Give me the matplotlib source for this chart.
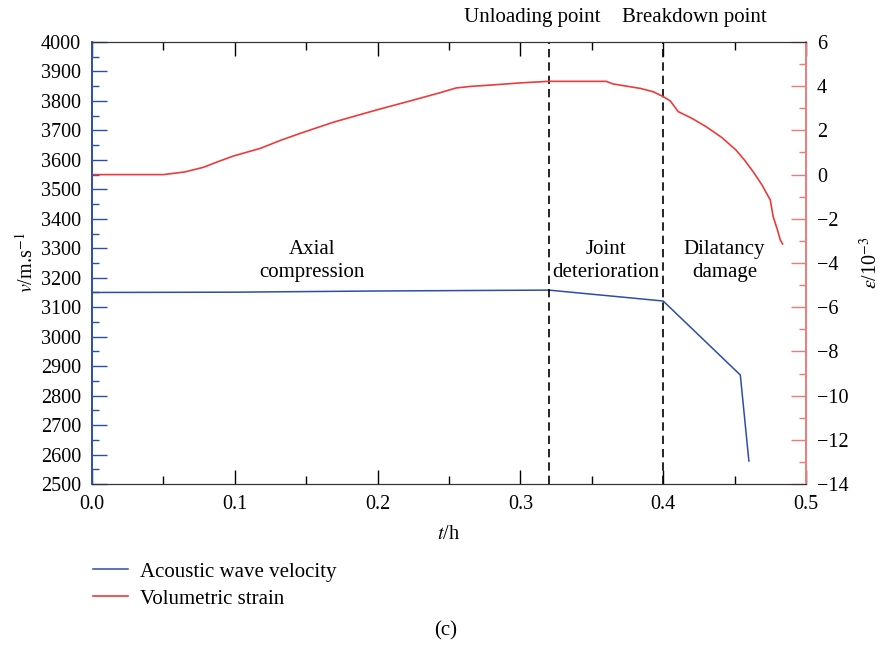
import matplotlib
matplotlib.use("Agg")
import matplotlib.pyplot as plt
from matplotlib.ticker import MultipleLocator

plt.rcParams['font.family'] = ['Liberation Serif', 'DejaVu Serif']
plt.rcParams['mathtext.fontset'] = 'stix'
plt.rcParams['font.size'] = 14.5

# acoustic wave velocity (m/s)
t_v = [0.0, 0.1, 0.2, 0.32, 0.4, 0.454, 0.460]
v = [3150, 3151, 3155, 3158, 3121, 2870, 2578]

# volumetric strain (10^-3)
t_e = [0.0, 0.05, 0.065, 0.078, 0.088, 0.099, 0.118, 0.132, 0.146, 0.169, 0.199,
       0.222, 0.244, 0.255, 0.265, 0.279, 0.30, 0.32, 0.36, 0.365, 0.384, 0.393,
       0.40, 0.405, 0.4105, 0.42, 0.43, 0.441, 0.451, 0.457, 0.463, 0.469, 0.475,
       0.477, 0.480, 0.482, 0.4836]
eps = [0.0, 0.0, 0.12, 0.33, 0.58, 0.84, 1.19, 1.55, 1.87, 2.37, 2.92,
       3.32, 3.71, 3.92, 3.99, 4.05, 4.15, 4.22, 4.22, 4.1, 3.9, 3.75,
       3.53, 3.33, 2.85, 2.55, 2.17, 1.68, 1.11, 0.65, 0.13, -0.45, -1.15,
       -1.9, -2.5, -2.96, -3.14]

marks = [0.32, 0.4]
mark_names = ["Unloading point", "Breakdown point"]
stages = ["Axial\ncompression", "Joint\ndeterioration", "Dilatancy\ndamage"]
stage_x = [0.154, 0.36, 0.443]

blue = '#2c4ea8'
red = '#ee3a3a'
pink = '#f07a7a'

fig = plt.figure(figsize=(8.81, 6.5), dpi=100)
ax = fig.add_axes([92/881, 1-484/650, (806-92)/881, (484-42)/650])
ax2 = ax.twinx()

l1, = ax.plot(t_v, v, color=blue, lw=1.1, label='Acoustic wave velocity')
l2, = ax2.plot(t_e, eps, color=red, lw=1.2, label='Volumetric strain')

for x in marks:
    ax.axvline(x, color='black', ls=(0, (5, 3)), lw=1.2)

ax.set_xlim(0, 0.5)
ax.set_ylim(2500, 4000)

ax.xaxis.set_major_locator(MultipleLocator(0.1))
ax.xaxis.set_minor_locator(MultipleLocator(0.05))
ax.yaxis.set_major_locator(MultipleLocator(100))
ax.yaxis.set_minor_locator(MultipleLocator(50))
ax2.yaxis.set_major_locator(MultipleLocator(2))
ax2.yaxis.set_minor_locator(MultipleLocator(1))

ax.tick_params(axis='x', which='both', direction='in', top=True, colors='black', pad=8)
ax.tick_params(axis='x', which='major', length=10, width=1)
ax.tick_params(axis='x', which='minor', length=6, width=1)
ax.tick_params(axis='y', which='both', direction='in', color=blue, labelcolor='black', pad=8)
ax.tick_params(axis='y', which='major', length=11, width=1)
ax.tick_params(axis='y', which='minor', length=5, width=1)
ax2.tick_params(axis='y', which='both', direction='in', color=pink, labelcolor='black', pad=8)
ax2.tick_params(axis='y', which='major', length=11, width=1)
ax2.tick_params(axis='y', which='minor', length=5, width=1)

ax.set_xticks([0, 0.1, 0.2, 0.3, 0.4, 0.5])
ax.set_xticklabels(["0.0", "0.1", "0.2", "0.3", "0.4", "0.5"])
ax2.set_yticks(range(-14, 7, 2))
ax2.set_yticklabels([str(y).replace('-', '\u2212') for y in range(-14, 7, 2)])
ax2.set_ylim(-14, 6)

for a in (ax, ax2):
    a.spines['top'].set_color('#333333')
    a.spines['bottom'].set_color('#333333')
    a.spines['left'].set_color(blue)
    a.spines['right'].set_color(pink)
    a.spines['left'].set_linewidth(1.2)
    a.spines['right'].set_linewidth(1.2)

ax.set_xlabel(r'$t$/h', labelpad=8)
ax.set_ylabel(r'$v$/m.s$^{-1}$', labelpad=2)
ax2.set_ylabel(r'$\varepsilon$/10$^{-3}$', labelpad=8)

for x, name in zip(marks, mark_names):
    ax.text(x - 0.012 if x < 0.35 else x + 0.022, 1.055, name, transform=ax.get_xaxis_transform(),
            ha='center', va='center', fontsize=15)

for x, s in zip(stage_x, stages):
    ax.text(x, 3258, s, ha='center', va='center', fontsize=15, linespacing=1.3)

fig.legend(handles=[l1, l2], loc='upper left', bbox_to_anchor=(0.096, 0.148),
           frameon=False, handlelength=1.7, handletextpad=0.55, labelspacing=0.35,
           fontsize=15, borderaxespad=0)

fig.text(446/881, 1-631/650, '(c)', ha='center', va='center', fontsize=15)

fig.savefig('out.png', dpi=100)
